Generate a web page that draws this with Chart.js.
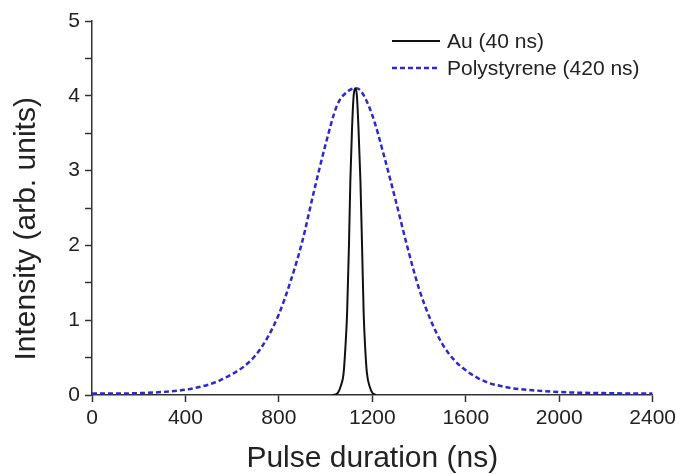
<!DOCTYPE html>
<html>
<head>
<meta charset="utf-8">
<script src="https://cdn.jsdelivr.net/npm/chart.js@4/dist/chart.umd.min.js"></script>
<style>
  html, body { margin: 0; padding: 0; background: #fff; }
  #wrap { width: 680px; height: 474px; }
</style>
</head>
<body>
<div id="wrap"><canvas id="pulse-chart" width="680" height="474"></canvas></div>
<script>
// values
const auTimes = [1030, 1050, 1065, 1077, 1085, 1092, 1100, 1106, 1113, 1120, 1127, 1134, 1141, 1149, 1156, 1163, 1170, 1177, 1190, 1200, 1215];
const auIntensity = [0, 0.02, 0.12, 0.29, 0.65, 1.09, 2.0, 2.87, 3.55, 4.0, 4.1, 4.0, 3.55, 2.87, 2.0, 1.09, 0.6, 0.29, 0.1, 0.03, 0];

const psTimes = [0, 100, 200, 300, 400, 450, 500, 550, 600, 650, 700, 750, 800, 850, 900, 950, 1000, 1050, 1100, 1127, 1150, 1200, 1250, 1300, 1350, 1400, 1450, 1500, 1550, 1600, 1650, 1700, 1750, 1800, 1900, 2000, 2100, 2200, 2300, 2400];
const psIntensity = [0.02, 0.02, 0.025, 0.04, 0.07, 0.1, 0.14, 0.2, 0.28, 0.38, 0.53, 0.76, 1.08, 1.52, 2.05, 2.72, 3.35, 3.88, 4.07, 4.1, 4.07, 3.74, 3.2, 2.6, 1.98, 1.42, 1.0, 0.68, 0.47, 0.33, 0.23, 0.16, 0.12, 0.09, 0.06, 0.04, 0.03, 0.025, 0.02, 0.02];

const seriesLabels = ['Au (40 ns)', 'Polystyrene (420 ns)'];
const xTitle = 'Pulse duration (ns)';
const yTitle = 'Intensity (arb. units)';

const FONT = '"Liberation Sans", Arial, sans-serif';
const TEXT = '#222';

function toPoints(xs, ys) {
    return xs.map((x, i) => ({ x: x, y: ys[i] }));
}

// legend sits inside the plot, top right
const insideLegend = {
    id: 'insideLegend',
    afterDraw(chart) {
        const ctx = chart.ctx;
        const area = chart.chartArea;
        const x0 = area.left + 300;
        const rows = [area.top + 20, area.top + 47];
        ctx.save();
        chart.data.datasets.forEach((ds, i) => {
            const y = rows[i];
            ctx.beginPath();
            ctx.strokeStyle = ds.borderColor;
            ctx.lineWidth = ds.borderWidth;
            ctx.setLineDash(ds.borderDash || []);
            ctx.moveTo(x0, y);
            ctx.lineTo(x0 + 48, y);
            ctx.stroke();
            ctx.setLineDash([]);
            ctx.fillStyle = TEXT;
            ctx.font = '21px ' + FONT;
            ctx.textBaseline = 'middle';
            ctx.fillText(ds.label, x0 + 55, y + 1);
        });
        ctx.restore();
    }
};

const ctx = document.getElementById('pulse-chart').getContext('2d');
new Chart(ctx, {
    type: 'scatter',
    data: {
        datasets: [
            {
                label: seriesLabels[0],
                data: toPoints(auTimes, auIntensity),
                showLine: true,
                borderColor: '#111',
                borderWidth: 2,
                pointRadius: 0,
                cubicInterpolationMode: 'monotone'
            },
            {
                label: seriesLabels[1],
                data: toPoints(psTimes, psIntensity),
                showLine: true,
                borderColor: '#2a2ad0',
                borderWidth: 2.5,
                borderDash: [5, 3],
                pointRadius: 0,
                cubicInterpolationMode: 'monotone'
            }
        ]
    },
    options: {
        responsive: false,
        animation: false,
        layout: { padding: { top: 21, right: 27, left: 0, bottom: 0 } },
        plugins: {
            legend: { display: false },
            tooltip: { enabled: false }
        },
        scales: {
            x: {
                type: 'linear',
                min: 0,
                max: 2400,
                afterFit(scale) { scale.height = 79; },
                border: { color: '#333', width: 1.5 },
                grid: { drawOnChartArea: false, drawTicks: true, tickLength: 7, color: '#333', tickWidth: 1.5 },
                ticks: {
                    stepSize: 200,
                    padding: 4,
                    color: TEXT,
                    font: { family: FONT, size: 21 },
                    maxRotation: 0,
                    callback: v => (v % 400 === 0 ? v : '')
                },
                title: {
                    display: true,
                    text: xTitle,
                    color: TEXT,
                    font: { family: FONT, size: 30, lineHeight: 1 },
                    padding: { top: 0, bottom: 0 }
                }
            },
            y: {
                min: 0,
                max: 5,
                afterFit(scale) { scale.width = 92; },
                border: { color: '#333', width: 1.5 },
                grid: { drawOnChartArea: false, drawTicks: true, tickLength: 7, color: '#333', tickWidth: 1.5 },
                ticks: {
                    stepSize: 0.5,
                    padding: 5,
                    color: TEXT,
                    font: { family: FONT, size: 21 },
                    callback: v => (Number.isInteger(v) ? v : '')
                },
                title: {
                    display: true,
                    text: yTitle + '\u00a0\u00a0\u00a0\u00a0\u00a0',
                    color: TEXT,
                    font: { family: FONT, size: 30, lineHeight: 1 },
                    padding: { top: 12, bottom: 0 }
                }
            }
        }
    },
    plugins: [insideLegend]
});
</script>
</body>
</html>
